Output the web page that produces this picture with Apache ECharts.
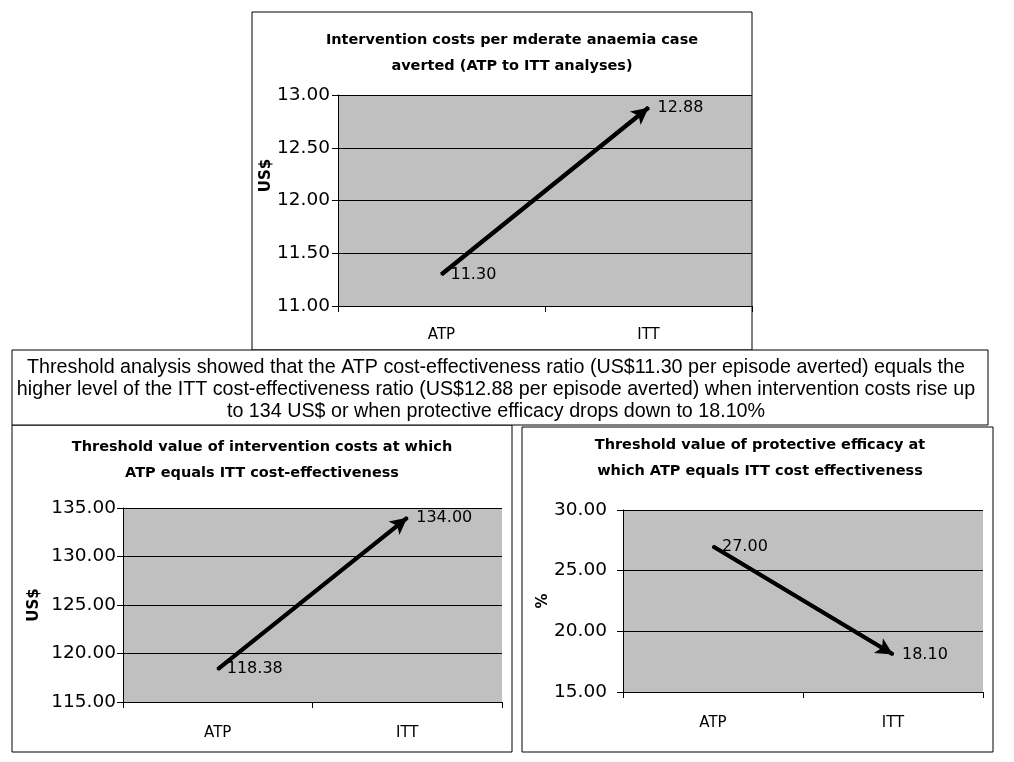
<!DOCTYPE html>
<html>
<head>
<meta charset="utf-8">
<script src="https://cdn.jsdelivr.net/npm/echarts@6/dist/echarts.min.js"></script>
<style>
  html, body { margin: 0; padding: 0; background: #fff; }
  #main { width: 1014px; height: 762px; }
</style>
</head>
<body>
<div id="main"></div>
<script>
// categories shared by the three panels
var categories = ["ATP", "ITT"];

// panel values
var costPerCase = [11.30, 12.88];      // US$ per moderate anaemia case averted
var costThreshold = [118.38, 134.00];  // threshold intervention costs
var efficacyThreshold = [27.00, 18.10]; // threshold protective efficacy (%)

// y axis ranges [min, max, interval]
var costPerCaseAxis = [11, 13, 0.5];
var costThresholdAxis = [115, 135, 5];
var efficacyAxis = [15, 30, 5];

var titles = [
  "Intervention costs per mderate anaemia case\naverted (ATP to ITT analyses)",
  "Threshold value of intervention costs at which\nATP equals ITT cost-effectiveness",
  "Threshold value of protective efficacy at\nwhich ATP equals ITT cost effectiveness"
];
var note = "Threshold analysis showed that the ATP cost-effectiveness ratio (US$11.30 per episode averted) equals the\n" +
  "higher level of the ITT cost-effectiveness ratio (US$12.88 per episode averted) when intervention costs rise up\n" +
  "to 134 US$ or when protective efficacy drops down to 18.10%";

var chart = echarts.init(document.getElementById("main"));

var tickFont = "DejaVu Sans";

function xAxisFor(i, margin) {
  return {
    type: "category",
    gridIndex: i,
    data: categories,
    boundaryGap: true,
    axisLine: { lineStyle: { color: "#000", width: 1 } },
    axisTick: { show: true, inside: false, length: 6, lineStyle: { color: "#000" } },
    axisLabel: { color: "#000", fontSize: 15, fontFamily: tickFont, margin: margin }
  };
}

function yAxisFor(i, range, name, gap, margin, pad) {
  return {
    type: "value",
    gridIndex: i,
    min: range[0],
    max: range[1],
    interval: range[2],
    name: name,
    nameLocation: "middle",
    nameRotate: 90,
    nameGap: gap,
    nameTextStyle: { color: "#000", fontSize: 15, fontWeight: "bold", fontFamily: tickFont, padding: pad || 0 },
    axisLine: { show: true, lineStyle: { color: "#000", width: 1 } },
    axisTick: { show: true, inside: false, length: 6, lineStyle: { color: "#000" } },
    axisLabel: {
      color: "#000", fontSize: 18.5, fontFamily: tickFont, margin: margin,
      formatter: function (v) { return v.toFixed(2); }
    },
    splitLine: { show: true, lineStyle: { color: "#000", width: 1 } }
  };
}

function seriesFor(i, values) {
  return {
    type: "line",
    xAxisIndex: i,
    yAxisIndex: i,
    data: values,
    symbol: "circle",
    symbolSize: 2,
    itemStyle: { color: "#000" },
    lineStyle: { color: "#000", width: 4 },
    label: {
      show: true,
      position: "right",
      distance: 8,
      color: "#000",
      fontSize: 16,
      fontFamily: tickFont,
      formatter: function (p) { return p.value.toFixed(2); }
    },
    markLine: {
      silent: true,
      symbol: ["none", "arrow"],
      symbolSize: [13, 17],
      label: { show: false },
      lineStyle: { color: "#000", width: 4, type: "solid" },
      data: [[
        { coord: [categories[0], values[0]] },
        { coord: [categories[1], values[1]] }
      ]]
    }
  };
}

function box(x, y, w, h) {
  return {
    type: "rect",
    shape: { x: x, y: y, width: w, height: h },
    style: { fill: "none", stroke: "#000", lineWidth: 1 },
    z: 100
  };
}

function titleText(x, y, txt) {
  return {
    type: "text",
    x: x,
    y: y,
    style: {
      text: txt,
      fill: "#000",
      font: "bold 14.5px 'DejaVu Sans'",
      textAlign: "center",
      textVerticalAlign: "top",
      lineHeight: 26
    },
    z: 100
  };
}

var option = {
  animation: false,
  backgroundColor: "#fff",
  grid: [
    { left: 338, top: 95, width: 414, height: 211, show: true, backgroundColor: "#c0c0c0", borderWidth: 0 },
    { left: 123, top: 508, width: 379, height: 194, show: true, backgroundColor: "#c0c0c0", borderWidth: 0 },
    { left: 623, top: 510, width: 360, height: 182, show: true, backgroundColor: "#c0c0c0", borderWidth: 0 }
  ],
  xAxis: [xAxisFor(0, 22), xAxisFor(1, 24), xAxisFor(2, 24)],
  yAxis: [
    yAxisFor(0, costPerCaseAxis, "US$", 54, 8, [0, 0, 0, 50]),
    yAxisFor(1, costThresholdAxis, "US$", 81, 7),
    yAxisFor(2, efficacyAxis, "%", 71, 16)
  ],
  series: [
    seriesFor(0, costPerCase),
    seriesFor(1, costThreshold),
    seriesFor(2, efficacyThreshold)
  ],
  graphic: [
    box(252, 12, 500, 338),
    box(12, 425, 500, 327),
    box(522, 427, 471, 325),
    {
      type: "rect",
      shape: { x: 12, y: 350, width: 976, height: 75 },
      style: { fill: "#fff", stroke: "#000", lineWidth: 1 },
      z: 101
    },
    {
      type: "text",
      x: 496,
      y: 357,
      style: {
        text: note,
        fill: "#000",
        font: "19.7px 'Liberation Sans', Arial",
        textAlign: "center",
        textVerticalAlign: "top",
        lineHeight: 22
      },
      z: 102
    },
    titleText(512, 27, titles[0]),
    titleText(262, 434, titles[1]),
    titleText(760, 432, titles[2])
  ]
};

chart.setOption(option);
</script>
</body>
</html>
